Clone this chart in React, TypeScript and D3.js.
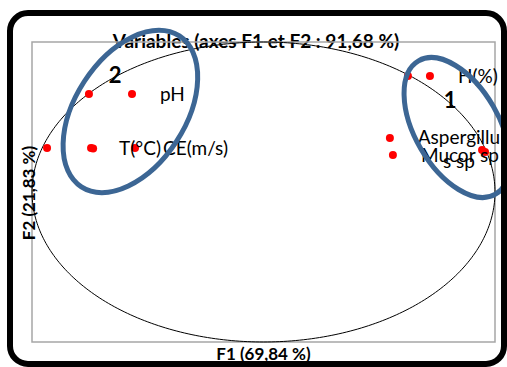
import * as d3 from "d3";

// correlation circle: variables on F1 / F2
const varNames = ["", "", "pH", "T(°C)", "", "CE(m/s)", "", "H(%)", "Aspergillus sp", "Mucor sp", "", ""];
const f1 = [-0.935, -0.754, -0.568, -0.745, -0.736, -0.555, 0.624, 0.719, 0.546, 0.559, 0.944, 0.957];
const f2 = [0.293, 0.653, 0.653, 0.293, 0.29, 0.293, 0.773, 0.773, 0.36, 0.247, 0.28, 0.267];

// Excel wrapped this one inside its label box
const wrapped: Record<string, string[]> = { "Aspergillus sp": ["Aspergillu", "s sp"] };

const title = "Variables (axes F1 et F2 : 91,68 %)";
const xTitle = "F1 (69,84 %)";
const yTitle = "F2 (21,83 %)";

// hand-drawn cluster groups
const clusterNames = ["1", "2"];
const clusterCx = [0.836, -0.575];
const clusterCy = [0.43, 0.537];
const clusterLabelX = [0.806, -0.641];
const clusterLabelY = [0.613, 0.78];

const W = 507, H = 367;
const plot = { left: 32, right: 495, top: 42, bottom: 342 };
const ellipseShape = [
  { rx: 77, ry: 42, rot: 60 },
  { rx: 90, ry: 55, rot: -57 },
];
const font = "Lato, 'Liberation Sans', sans-serif";

export default function App() {
  const x = d3.scaleLinear().domain([-1, 1]).range([plot.left, plot.right]);
  const y = d3.scaleLinear().domain([-1, 1]).range([plot.bottom, plot.top]);

  const circle = d3.line<number>()
    .x(a => x(Math.cos(a)))
    .y(a => y(Math.sin(a)))
    .curve(d3.curveLinearClosed)(d3.range(0, 2 * Math.PI, Math.PI / 180));

  const cx = (plot.left + plot.right) / 2;

  return (
    <svg width={W} height={H} style={{ position: "absolute", left: 0, top: 0, background: "#fff" }}
         fontFamily={font}>
      <rect x={0} y={0} width={W} height={H} fill="#fff" />
      <text x={256} y={48} textAnchor="middle" fontWeight="bold" fontSize={19}>{title}</text>
      <rect x={plot.left} y={plot.top} width={plot.right - plot.left} height={plot.bottom - plot.top}
            fill="none" stroke="#a6a6a6" strokeWidth={1.5} />
      <path d={circle ?? ""} fill="none" stroke="#000" strokeWidth={1} />

      {f1.map((v, i) => (
        <circle key={i} cx={x(v)} cy={y(f2[i])} r={4} fill="#ff0000" />
      ))}

      {varNames.map((n, i) => {
        if (!n) return null;
        const px = x(f1[i]) + 28, py = y(f2[i]);
        const lines = wrapped[n];
        if (lines) {
          return (
            <text key={n} fontSize={19} textAnchor="middle" x={px + 41}>
              {lines.map((l, j) => (
                <tspan key={j} x={px + 41} y={py + 6 + j * 24}>{l}</tspan>
              ))}
            </text>
          );
        }
        return <text key={n} x={px} y={py + 7} fontSize={19}>{n}</text>;
      })}

      <text x={cx} y={360} textAnchor="middle" fontWeight="bold" fontSize={17}>{xTitle}</text>
      <text transform={`translate(35,${193}) rotate(-90)`} textAnchor="middle" fontWeight="bold" fontSize={17}>
        {yTitle}
      </text>

      {clusterNames.map((c, i) => (
        <g key={c}>
          <ellipse cx={0} cy={0} rx={ellipseShape[i].rx} ry={ellipseShape[i].ry}
                   transform={`translate(${x(clusterCx[i])},${y(clusterCy[i])}) rotate(${ellipseShape[i].rot})`}
                   fill="none" stroke="#3c6694" strokeWidth={5} />
          <text x={x(clusterLabelX[i])} y={y(clusterLabelY[i]) + 8} textAnchor="middle"
                fontWeight="bold" fontSize={22}>{c}</text>
        </g>
      ))}

      <rect x={10} y={13} width={494} height={351} rx={18} fill="none" stroke="#000" strokeWidth={6} />
    </svg>
  );
}
